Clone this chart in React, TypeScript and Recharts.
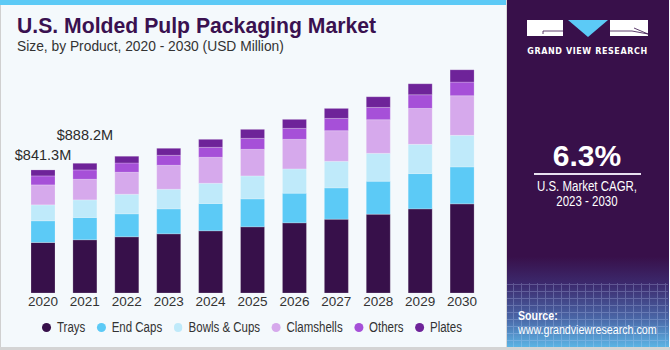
import { BarChart, Bar, XAxis, YAxis, LabelList } from "recharts"

const years = ["2020", "2021", "2022", "2023", "2024", "2025", "2026", "2027", "2028", "2029", "2030"]

const trays = [345.7, 363.9, 384.4, 404.8, 425.3, 452.6, 479.9, 504.9, 539.0, 575.4, 609.5]
const endCaps = [147.8, 152.4, 156.9, 170.6, 186.5, 191.0, 202.4, 213.8, 225.2, 241.1, 252.5]
const bowlsCups = [109.2, 120.5, 134.2, 134.2, 138.7, 156.9, 166.0, 181.9, 191.0, 200.1, 216.1]
const clamshells = [136.5, 141.0, 150.1, 163.8, 177.4, 181.9, 202.4, 209.2, 229.7, 245.6, 270.7]
const others = [61.4, 63.7, 63.7, 68.2, 68.2, 75.1, 75.1, 84.1, 84.1, 93.3, 93.3]
const plates = [40.9, 45.5, 45.5, 47.8, 54.6, 61.4, 61.4, 68.2, 72.8, 75.1, 84.1]

const totalLabels = ["$841.3M", "$888.2M"]

const series = [
  { key: "trays", name: "Trays", color: "#37104a", values: trays },
  { key: "endCaps", name: "End Caps", color: "#5ccaf6", values: endCaps },
  { key: "bowlsCups", name: "Bowls & Cups", color: "#bfeafa", values: bowlsCups },
  { key: "clamshells", name: "Clamshells", color: "#d6a9ec", values: clamshells },
  { key: "others", name: "Others", color: "#a650d8", values: others },
  { key: "plates", name: "Plates", color: "#6e2399", values: plates },
]

const data = years.map((year, i) => {
  const row: Record<string, string | number> = { year }
  series.forEach(s => { row[s.key] = s.values[i] })
  return row
})

const font = "'Liberation Sans', Arial, sans-serif"
const labelLift = [10, 23]
// the original uses a condensed face, so some text is squeezed horizontally
const squeeze = 0.82

function TotalLabel(props: any) {
  const { x, y, width, index } = props
  if (index >= totalLabels.length) return null
  return (
    <text
      x={x + width / 2}
      y={y - labelLift[index]}
      textAnchor="middle"
      fill="#2b2b2b"
      fontSize={14.5}
      fontFamily={font}
    >
      {totalLabels[index]}
    </text>
  )
}

function Logo() {
  return (
    <svg width={164} height={60} style={{ position: "absolute", left: 506, top: 0 }}>
      <rect x={21} y={20} width={36} height={16} fill="#ffffff" />
      <polyline points="57,31 37,31 37,34" fill="none" stroke="#37104a" strokeWidth={0.8} />
      <polygon points="62,20 102,20 82,37" fill="#5ccaf6" />
      <rect x={104} y={20} width={38} height={16} fill="#ffffff" />
      <polyline points="104,31 126,31 142,34 128,28" fill="none" stroke="#37104a" strokeWidth={0.8} />
      <text
        x={81.5}
        y={54}
        textAnchor="middle"
        fill="#ffffff"
        fontSize={8}
        fontWeight="bold"
        letterSpacing={0.6}
        fontFamily="'DejaVu Sans', sans-serif"
      >
        GRAND VIEW RESEARCH
      </text>
    </svg>
  )
}

export default function App() {
  return (
    <div
      style={{
        position: "absolute",
        left: 0,
        top: 0,
        width: 670,
        height: 350,
        background: "#f4f9fc",
        fontFamily: font,
        overflow: "hidden",
      }}
    >
      <div style={{ position: "absolute", left: 0, top: 0, width: 506, height: 5, background: "#5ccaf6" }} />
      <div style={{ position: "absolute", left: 0, top: 5, width: 1, height: 343, background: "#d0d0d0" }} />
      <div style={{ position: "absolute", left: 0, top: 347, width: 670, height: 3, background: "#d4d4d4" }} />

      <div
        style={{
          position: "absolute",
          left: 17,
          top: 14,
          fontSize: 21.2,
          fontWeight: "bold",
          color: "#3a1150",
          whiteSpace: "nowrap",
        }}
      >
        U.S. Molded Pulp Packaging Market
      </div>
      <div style={{ position: "absolute", left: 17, top: 39, fontSize: 13.8, color: "#333333", whiteSpace: "nowrap" }}>
        Size, by Product, 2020 - 2030 (USD Million)
      </div>

      <div style={{ position: "absolute", left: 0, top: 0 }}>
        <BarChart width={500} height={321} data={data} margin={{ top: 59, right: 17, bottom: 0, left: 22 }}>
          <XAxis
            dataKey="year"
            height={28}
            tickLine={false}
            axisLine={false}
            tickSize={0}
            tickMargin={3}
            interval={0}
            tick={{ fill: "#333333", fontSize: 13.5, fontFamily: font }}
          />
          <YAxis hide domain={[0, 1600]} allowDataOverflow />
          {series.map((s, i) => (
            <Bar
              key={s.key}
              dataKey={s.key}
              name={s.name}
              stackId="a"
              fill={s.color}
              barSize={24}
              stroke="rgba(255,255,255,0.35)"
              strokeWidth={0.6}
              isAnimationActive={false}
            >
              {i === series.length - 1 && <LabelList dataKey={s.key} content={<TotalLabel />} />}
            </Bar>
          ))}
        </BarChart>
      </div>

      <div
        style={{
          position: "absolute",
          left: 42,
          top: 319,
          display: "flex",
          alignItems: "center",
          fontSize: 14,
          color: "#333333",
          whiteSpace: "nowrap",
          transform: `scaleX(${squeeze})`,
          transformOrigin: "left center",
        }}
      >
        {series.map(s => (
          <div key={s.key} style={{ display: "flex", alignItems: "center", marginRight: 14 }}>
            <span
              style={{
                display: "inline-block",
                width: 9 / squeeze,
                height: 9,
                borderRadius: "50%",
                background: s.color,
                marginRight: 7.3,
              }}
            />
            {s.name}
          </div>
        ))}
      </div>

      <div
        style={{
          position: "absolute",
          left: 506,
          top: 0,
          width: 162,
          height: 347,
          background:
            "linear-gradient(to bottom, #38104a 0%, #38104a 74%, #3c2a6e 82%, #4a68a8 92%, #5cb4e4 100%)",
          borderLeft: "1px solid #d8d8d8",
        }}
      />
      <div
        style={{
          position: "absolute",
          left: 506,
          top: 283,
          width: 162,
          height: 64,
          opacity: 0.25,
          background:
            "repeating-linear-gradient(90deg, transparent 0px, transparent 7px, #c8d8ff 7px, #c8d8ff 8px), repeating-linear-gradient(0deg, transparent 0px, transparent 6px, #c8d8ff 6px, #c8d8ff 7px)",
        }}
      />
      <Logo />

      <div
        style={{
          position: "absolute",
          left: 506,
          top: 139,
          width: 162,
          textAlign: "center",
          color: "#ffffff",
          fontSize: 30,
          fontWeight: "bold",
        }}
      >
        6.3%
      </div>
      <div style={{ position: "absolute", left: 534, top: 173, width: 107, height: 1.5, background: "#e8e0f0" }} />
      <div
        style={{
          position: "absolute",
          left: 506,
          top: 179,
          width: 162,
          textAlign: "center",
          color: "#ffffff",
          fontSize: 14,
          lineHeight: "15px",
          transform: `scaleX(${squeeze})`,
          transformOrigin: "center",
        }}
      >
        U.S. Market CAGR,
        <br />
        2023 - 2030
      </div>

      <div
        style={{
          position: "absolute",
          left: 518,
          top: 309,
          color: "#ffffff",
          fontSize: 13,
          lineHeight: "14px",
          whiteSpace: "nowrap",
          transform: `scaleX(${squeeze})`,
          transformOrigin: "left center",
        }}
      >
        <b>Source:</b>
        <br />
        www.grandviewresearch.com
      </div>
    </div>
  )
}
